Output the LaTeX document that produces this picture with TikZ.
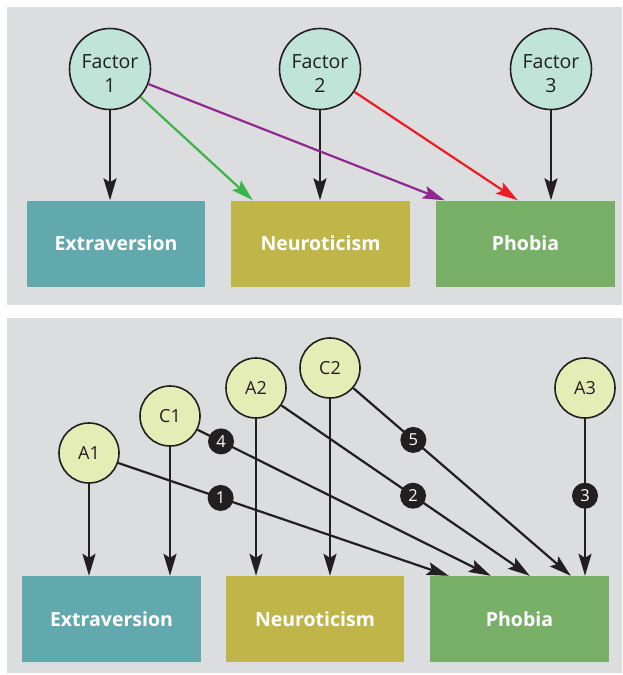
\documentclass[tikz,border=0pt]{standalone}
\usepackage{fontspec}
\setmainfont{Open Sans}
\usetikzlibrary{arrows.meta,calc}
\definecolor{panelgray}{HTML}{DCDDDF}
\definecolor{mint}{HTML}{C0E4D8}
\definecolor{lime}{HTML}{E5EDB6}
\definecolor{teal}{HTML}{62A9AE}
\definecolor{olive}{HTML}{C0B548}
\definecolor{leaf}{HTML}{78B068}
\definecolor{ink}{HTML}{231F20}
\definecolor{arrgreen}{HTML}{3BB54A}
\definecolor{arrpurple}{HTML}{92278F}
\definecolor{arrred}{HTML}{ED1C24}
\tikzset{
  factor/.style={circle, draw=ink, line width=1.6pt, fill=mint, minimum size=81pt, inner sep=0pt},
  factortext/.style={align=center, text=ink, font=\fontsize{19.5}{24}\selectfont, yshift=-5pt},
  latent/.style={circle, draw=ink, line width=1.6pt, fill=lime, minimum size=60pt, inner sep=0pt,
    text=ink, font=\fontsize{18}{22}\selectfont},
  outbox/.style={rectangle, minimum height=86pt, inner sep=0pt, text=white,
    font=\fontsize{19.5}{22}\selectfont\bfseries},
  arr/.style={draw=ink, line width=2.2pt, -{Stealth[length=22pt,width=13pt,inset=4pt]}},
  badge/.style={circle, fill=ink, minimum size=26pt, inner sep=0pt, text=white,
    font=\fontsize{16.5}{18}\selectfont},
}
\begin{document}
\begin{tikzpicture}[x=1pt,y=-1pt]
\useasboundingbox (0,0) rectangle (623,675);
\fill[panelgray] (7,7) rectangle (622,305);
\fill[panelgray] (7,318) rectangle (622,673);

% ---------- top panel ----------
\node[factor, label={[factortext]center:Factor\\1}] (f1) at (110,69) {};
\node[factor, label={[factortext]center:Factor\\2}] (f2) at (320,69) {};
\node[factor, label={[factortext]center:Factor\\3}] (f3) at (551,69) {};
\node[outbox, fill=teal, minimum width=178pt] (ex1) at (116,243.5) {Extraversion};
\node[outbox, fill=olive, minimum width=179pt] (ne1) at (320.5,243.5) {Neuroticism};
\node[outbox, fill=leaf, minimum width=179pt] (ph1) at (525.5,243.5) {Phobia};

\coordinate (gEnd) at ($(ne1.north west)+(22,0)$);
\coordinate (pEnd) at ($(ph1.north west)+(9,0)$);
\coordinate (rEnd) at ($(ph1.north west)+(82,0)$);

\draw[arr] (f1) -- (f1 |- ex1.north);
\draw[arr] (f2) -- (f2 |- ne1.north);
\draw[arr] (f3) -- (f3 |- ph1.north);
\draw[arr, draw=arrgreen] (f1) -- (gEnd);
\draw[arr, draw=arrpurple] (f1) -- (pEnd);
\draw[arr, draw=arrred] (f2) -- (rEnd);

% ---------- bottom panel ----------
\node[latent] (a1) at (89,453) {A1};
\node[latent] (c1) at (170,416) {C1};
\node[latent] (a2) at (256,388) {A2};
\node[latent] (c2) at (330,368) {C2};
\node[latent] (a3) at (585,388) {A3};
\node[outbox, fill=teal, minimum width=179pt] (ex2) at (111.5,619) {Extraversion};
\node[outbox, fill=olive, minimum width=178pt] (ne2) at (315,619) {Neuroticism};
\node[outbox, fill=leaf, minimum width=179pt] (ph2) at (519.5,619) {Phobia};

\coordinate (e1) at ($(ph2.north west)+(19,0)$);
\coordinate (e4) at ($(ph2.north west)+(61,0)$);
\coordinate (e2) at ($(ph2.north west)+(100,0)$);
\coordinate (e5) at ($(ph2.north west)+(141,0)$);

\draw[arr] (a1) -- (a1 |- ex2.north);
\draw[arr] (c1) -- (c1 |- ex2.north);
\draw[arr] (a2) -- (a2 |- ne2.north);
\draw[arr] (c2) -- (c2 |- ne2.north);
\draw[arr] (a1) -- node[badge, pos=0.31] (b1) {1} (e1);
\draw[arr] (c1) -- node[badge, pos=0.08] (b4) {4} (e4);
\draw[arr] (a2) -- node[badge, pos=0.53] (b2) {2} (e2);
\draw[arr] (c2) -- node[badge, pos=0.276] (b5) {5} (e5);
\draw[arr] (a3) -- node[badge, pos=0.49] (b3) {3} (a3 |- ph2.north);
\end{tikzpicture}
\end{document}
